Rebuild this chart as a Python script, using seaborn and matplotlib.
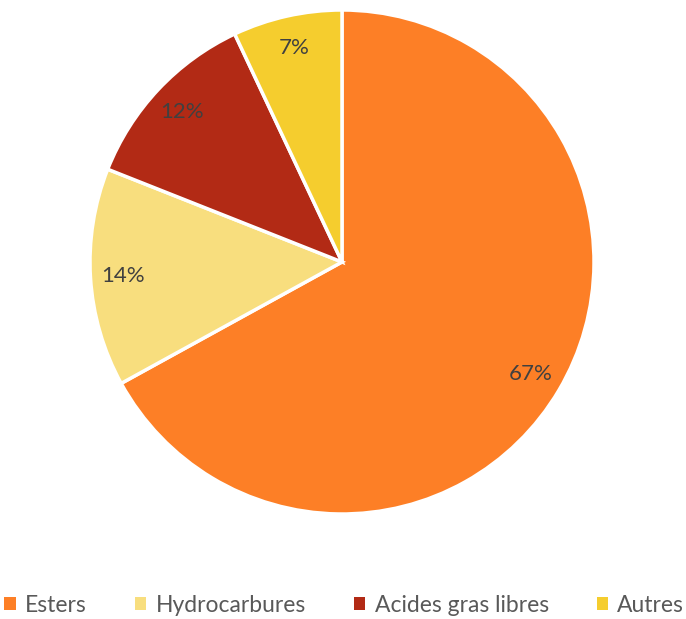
import matplotlib.pyplot as plt
import seaborn as sns
from matplotlib.patches import Patch

categories = ['Esters', 'Hydrocarbures', 'Acides gras libres', 'Autres']
shares = [67, 14, 12, 7]
colors = ['#FD7F26', '#F8DE7E', '#B22A15', '#F5CD2E']

sns.set_theme(style='white')
plt.rcParams['font.family'] = ['Lato', 'DejaVu Sans']

fig = plt.figure(figsize=(6.86, 6.19), dpi=100)
ax = fig.add_axes([90 / 686, 105 / 619, 504 / 686, 504 / 619])

wedges, texts, autotexts = ax.pie(
    shares, colors=colors, startangle=90, counterclock=False,
    autopct='%1.0f%%', pctdistance=0.87,
    wedgeprops=dict(edgecolor='white', linewidth=2.5),
    textprops=dict(color='#404040', fontsize=16),
)
ax.set_xlim(-1.0, 1.0)
ax.set_ylim(-1.0, 1.0)
ax.set_aspect('equal')

handles = [Patch(facecolor=c, edgecolor='none') for c in colors]
fig.legend(handles, categories, loc='center', bbox_to_anchor=(0.502, 1 - 605 / 619),
           ncol=4, frameon=False, fontsize=16.5, labelcolor='#595959',
           handlelength=0.5, handleheight=0.5, handletextpad=0.4,
           columnspacing=2.1, borderpad=0, borderaxespad=0)

fig.savefig('out.png', dpi=100)
